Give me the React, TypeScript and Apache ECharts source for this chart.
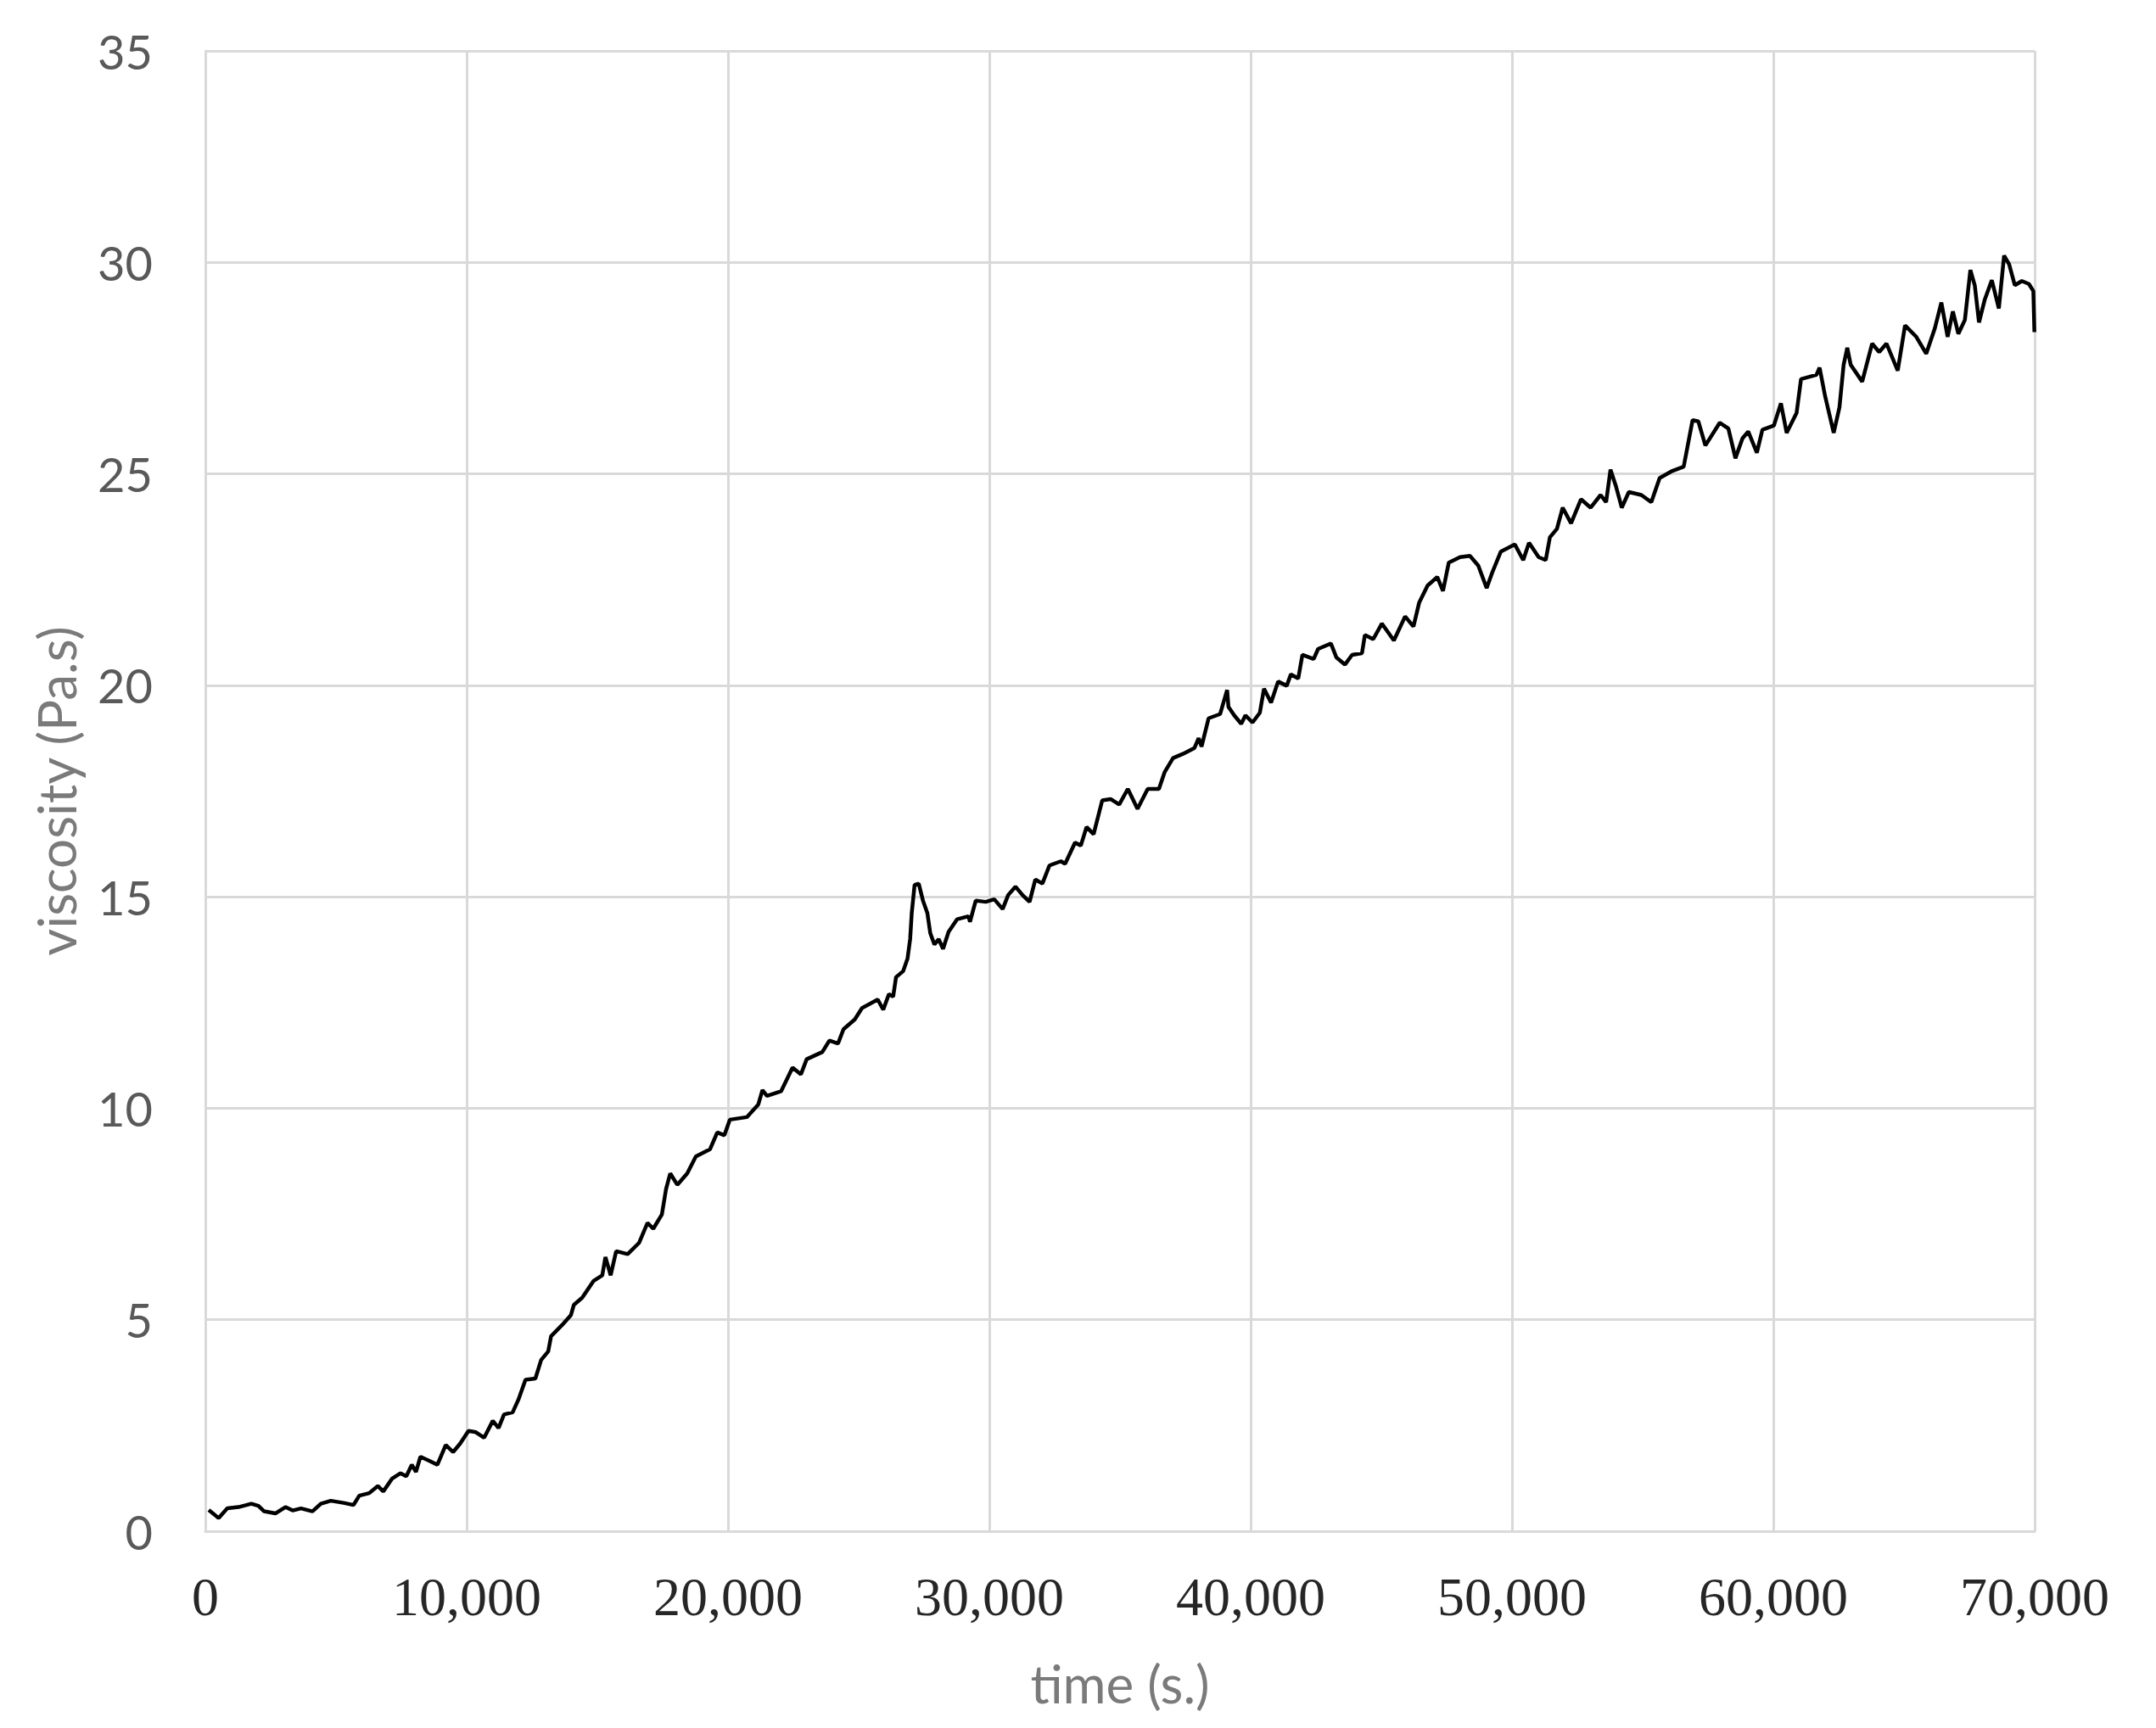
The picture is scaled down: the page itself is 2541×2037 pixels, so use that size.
import { useEffect, useRef } from 'react';
import * as echarts from 'echarts';

// time (s.)
const timeSec = [
    130, 510, 840, 1270, 1760, 2030, 2250, 2680, 3065, 3340, 3660, 4100, 4420, 4800, 5290, 5670,
    5890, 6270, 6600, 6810, 7140, 7470, 7690, 7900, 8060, 8230, 8550, 8880, 9200, 9480, 9750, 10070,
    10350, 10670, 11000, 11220, 11430, 11760, 11980, 12250, 12630, 12850,
    13120, 13230, 13660, 13990, 14100, 14420, 14860, 15190, 15310, 15510, 15720, 16160, 16600, 16920,
    17140, 17470, 17630, 17790, 18060, 18440, 18770, 19310, 19590, 19860, 20070,
    20720, 21160, 21320, 21490, 22030, 22470, 22790, 23010, 23610, 23880, 24210, 24420, 24850, 25130,
    25730, 25940, 26160, 26320, 26430, 26700, 26870, 26970, 27030, 27140, 27300, 27460, 27630, 27740,
    27900, 28060, 28230, 28440, 28770, 29200, 29260, 29480, 29860, 30190, 30510, 30720, 31000, 31270,
    31540, 31760, 32030, 32300,
    32740, 32900, 33280, 33500, 33720, 33990, 34320, 34640, 34970, 35300, 35670, 36060, 36490, 36710,
    37030, 37410, 37850, 38010, 38120, 38390, 38830, 39100, 39150, 39370, 39640, 39800, 40070, 40350,
    40510, 40780, 41050, 41380, 41540, 41820, 41980, 42410, 42580, 43070, 43280, 43610, 43880, 44260,
    44370, 44690, 45020,
    45480, 45910, 46230, 46450, 46770, 47140, 47360, 47580, 48010, 48390, 48710, 49030, 49240, 49570,
    50110, 50430, 50650, 51020, 51290, 51450, 51720, 51940, 52260, 52640, 53010, 53390, 53600, 53770,
    53980, 54200, 54470, 54950, 55330, 55650, 56140, 56570,
    56910, 57130, 57400, 57950, 58280, 58550, 58820, 59040, 59370, 59580, 60020, 60290, 60510, 60890,
    61060, 61650, 61770, 61980, 62310, 62530, 62690, 62830, 62960, 63400, 63780, 64050, 64330, 64760,
    65040, 65470, 65850, 66180, 66430, 66670, 66870, 67080, 67330, 67540, 67710, 67870, 68090, 68360,
    68630, 68830, 69020, 69240, 69510, 69780, 69950, 69990,
];

// viscosity (Pa.s) at each time above
const viscosity = [
    0.5, 0.31, 0.54, 0.57, 0.65, 0.6, 0.47, 0.42, 0.57, 0.49, 0.54, 0.47, 0.65, 0.72, 0.67, 0.62,
    0.84, 0.9, 1.07, 0.94, 1.24, 1.37, 1.3, 1.57, 1.4, 1.76, 1.67, 1.57, 2.04, 1.87, 2.07, 2.37,
    2.34, 2.21, 2.61, 2.44, 2.76, 2.81, 3.11, 3.58, 3.61, 4.05,
    4.25, 4.61, 4.88, 5.11, 5.35, 5.52, 5.92, 6.05, 6.48, 6.05, 6.62, 6.55, 6.82, 7.29,
    7.15, 7.49, 8.09, 8.46, 8.19, 8.46, 8.86, 9.03, 9.43, 9.36, 9.73,
    9.79, 10.09, 10.43, 10.29, 10.4, 10.96, 10.8, 11.16, 11.33, 11.6, 11.53, 11.87, 12.1, 12.37,
    12.57, 12.33, 12.7, 12.64, 13.1, 13.24, 13.54, 14.0, 14.61, 15.28, 15.31, 14.91, 14.61, 14.14,
    13.87, 14.0, 13.77, 14.17, 14.47, 14.54, 14.41, 14.91, 14.88, 14.94, 14.71, 15.04, 15.24, 15.04,
    14.88, 15.41, 15.31, 15.74,
    15.84, 15.78, 16.28, 16.21, 16.65, 16.48, 17.28, 17.31, 17.18, 17.55, 17.08, 17.55, 17.55, 17.95,
    18.28, 18.38, 18.52, 18.75, 18.55, 19.22, 19.32, 19.89, 19.49, 19.29, 19.09, 19.29, 19.12, 19.35,
    19.92, 19.59, 20.09, 19.99, 20.26, 20.16, 20.72, 20.62, 20.86, 20.99, 20.66, 20.49, 20.72, 20.76,
    21.19, 21.09, 21.46,
    21.06, 21.63, 21.39, 21.96, 22.36, 22.56, 22.23, 22.9, 23.03, 23.06, 22.83, 22.3, 22.66, 23.16,
    23.33, 22.96, 23.37, 23.03, 22.96, 23.5, 23.7, 24.2, 23.83, 24.4, 24.2, 24.5, 24.33, 25.1,
    24.7, 24.2, 24.57, 24.5, 24.33, 24.9, 25.07, 25.17,
    26.27, 26.24, 25.67, 26.21, 26.07, 25.37, 25.84, 26.0, 25.5, 26.04, 26.14, 26.67, 25.97, 26.44,
    27.24, 27.34, 27.51, 26.84, 25.97, 26.57, 27.58, 27.98, 27.58, 27.18, 28.08, 27.88, 28.08, 27.44,
    28.51, 28.24, 27.84, 28.44, 29.05, 28.24, 28.84, 28.31, 28.64, 29.82, 29.45, 28.58, 29.12, 29.58,
    28.91, 30.16, 29.96, 29.46, 29.56, 29.49, 29.32, 28.35,
];

const gridGray = '#d9d9d9';

export default function App() {
    const chartRef = useRef<HTMLDivElement>(null);

    useEffect(() => {
        const chart = echarts.init(chartRef.current, null, { renderer: 'svg' });

        chart.setOption({
            animation: false,
            backgroundColor: '#ffffff',
            grid: { left: 242, right: 143, top: 60, bottom: 232 },
            xAxis: {
                type: 'value',
                min: 0,
                max: 70000,
                interval: 10000,
                name: 'time (s.)',
                nameLocation: 'middle',
                nameGap: 148,
                nameTextStyle: { fontFamily: 'Lato', fontSize: 62, color: '#7a7a7a' },
                axisLine: { show: true, lineStyle: { color: gridGray, width: 3 } },
                axisTick: { show: false },
                splitLine: { show: true, lineStyle: { color: gridGray, width: 3 } },
                axisLabel: {
                    margin: 45,
                    fontFamily: 'Liberation Serif',
                    fontSize: 64,
                    color: '#262626',
                    formatter: (v: number) => v.toLocaleString('en-US'),
                },
            },
            yAxis: {
                type: 'value',
                min: 0,
                max: 35,
                interval: 5,
                name: 'viscosity (Pa.s)',
                nameLocation: 'middle',
                nameGap: 145,
                nameTextStyle: { fontFamily: 'Lato', fontSize: 62, color: '#7a7a7a' },
                axisLine: { show: true, lineStyle: { color: gridGray, width: 3 } },
                axisTick: { show: false },
                splitLine: { show: true, lineStyle: { color: gridGray, width: 3 } },
                axisLabel: { margin: 62, fontFamily: 'Lato', fontSize: 56, color: '#595959' },
            },
            series: [
                {
                    type: 'line',
                    data: timeSec.map((t, i) => [t, viscosity[i]]),
                    showSymbol: false,
                    silent: true,
                    lineStyle: { color: '#000000', width: 4.5 },
                },
            ],
        });

        return () => {
            chart.dispose();
        };
    }, []);

    return (
        <div
            ref={chartRef}
            style={{ position: 'absolute', left: 0, top: 0, width: '2541px', height: '2037px' }}
        />
    );
}
